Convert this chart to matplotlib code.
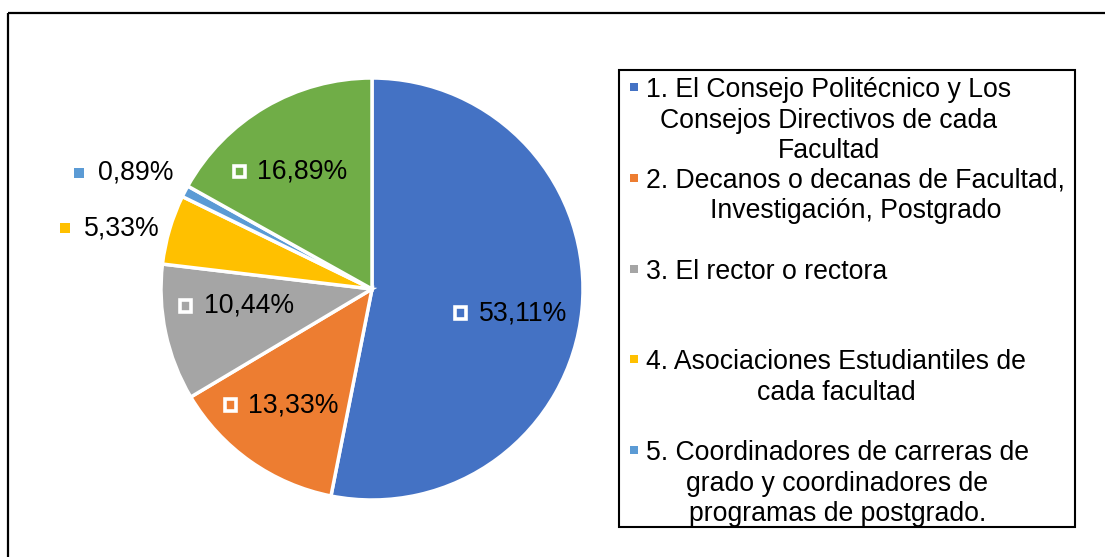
import matplotlib
matplotlib.use("Agg")
import numpy as np
import matplotlib.pyplot as plt
from matplotlib.patches import Rectangle
from matplotlib.offsetbox import AnnotationBbox, DrawingArea, HPacker, TextArea

plt.rcParams['font.family'] = ['Liberation Sans', 'DejaVu Sans']

# slice shares (%) clockwise from 12 o'clock
shares = [53.11, 13.33, 10.44, 5.33, 0.89, 16.89]
colors = ["#4472C4", "#ED7D31", "#A5A5A5", "#FFC000", "#5B9BD5", "#70AD47"]
# small slices get their label outside the pie
outside = [False, False, False, True, True, False]
# legend is clipped in the original: only the first five entries show
legend_labels = [
    "1. El Consejo Politécnico y Los\nConsejos Directivos de cada\nFacultad",
    "2. Decanos o decanas de Facultad,\nInvestigación, Postgrado",
    "3. El rector o rectora",
    "4. Asociaciones Estudiantiles de\ncada facultad",
    "5. Coordinadores de carreras de\ngrado y coordinadores de\nprogramas de postgrado.",
]

# "best fit" label placement: radius (fraction of R) and angle nudge (deg)
lab_r = [0.664, 0.70, 0.65, 1.275, 1.30, 0.68]
lab_nudge = [-4.3, -2.9, -4.9, 3.3, 2.5, 4.6]

W, H = 1105, 557
FS = 19.2

fig = plt.figure(figsize=(W / 100, H / 100), dpi=100)

# overlay in pixel coords for frame + legend
ov = fig.add_axes([0, 0, 1, 1])
ov.set_xlim(0, W)
ov.set_ylim(H, 0)
ov.axis("off")
ov.patch.set_visible(False)

# pie
cx, cy, R = 372, H - 289, 211
ax = fig.add_axes([(cx - R) / W, (cy - R) / H, 2 * R / W, 2 * R / H])
wedges, _ = ax.pie(shares, colors=colors, startangle=90, counterclock=False,
                   wedgeprops=dict(edgecolor="white", linewidth=2.5))
ax.set_xlim(-1, 1)
ax.set_ylim(-1, 1)

for w, v, c, out, r, dn in zip(wedges, shares, colors, outside, lab_r, lab_nudge):
    ang = np.deg2rad((w.theta1 + w.theta2) / 2 + dn)
    x, y = r * np.cos(ang), r * np.sin(ang)
    if out:
        da = DrawingArea(7, 7, 0, 0)
        da.add_artist(Rectangle((0, 0), 7, 7, facecolor=c, edgecolor="none"))
        sep = 10
    else:
        da = DrawingArea(11, 11, 0, 0)
        da.add_artist(Rectangle((1.3, 1.3), 8.4, 8.4, facecolor="none",
                                edgecolor="white", linewidth=2.6))
        sep = 7.5
    ta = TextArea(f"{v:.2f}%".replace(".", ","), textprops=dict(fontsize=FS, color="black"))
    box = HPacker(children=[da, ta], align="center", pad=0, sep=sep)
    ab = AnnotationBbox(box, (x, y), xycoords="data", frameon=False,
                        box_alignment=(0.5, 0.5), annotation_clip=False)
    ax.add_artist(ab)

# outer frame (only top and left edges are visible in the original)
ov.plot([8, 8], [13, H], color="black", lw=1.6, solid_capstyle="butt")
ov.plot([8, W], [13, 13], color="black", lw=1.6, solid_capstyle="butt")

# legend box
lx0, ly0, lx1, ly1 = 619, 70, 1075, 527
frame = Rectangle((lx0, ly0), lx1 - lx0, ly1 - ly0, fill=False,
                  edgecolor="black", lw=1.5, zorder=5)
ov.add_patch(frame)
clip = Rectangle((lx0, ly0), lx1 - lx0, ly1 - ly0, transform=ov.transData)

renderer = fig.canvas.get_renderer()
step = 30.5
for i, (lab, c) in enumerate(zip(legend_labels, colors)):
    base = 97 + 90.8 * i
    ov.add_patch(Rectangle((630, base - 14), 8, 8, facecolor=c, edgecolor="none"))
    lines = lab.split("\n")
    first = ov.text(646, base, lines[0], fontsize=FS, ha="left", va="baseline", color="black")
    first.set_clip_path(clip)
    wpx = first.get_window_extent(renderer).width
    for k, ln in enumerate(lines[1:], start=1):
        t = ov.text(646 + wpx / 2, base + k * step, ln, fontsize=FS, ha="center",
                    va="baseline", color="black")
        t.set_clip_path(clip)

fig.savefig("out.png", dpi=100)
